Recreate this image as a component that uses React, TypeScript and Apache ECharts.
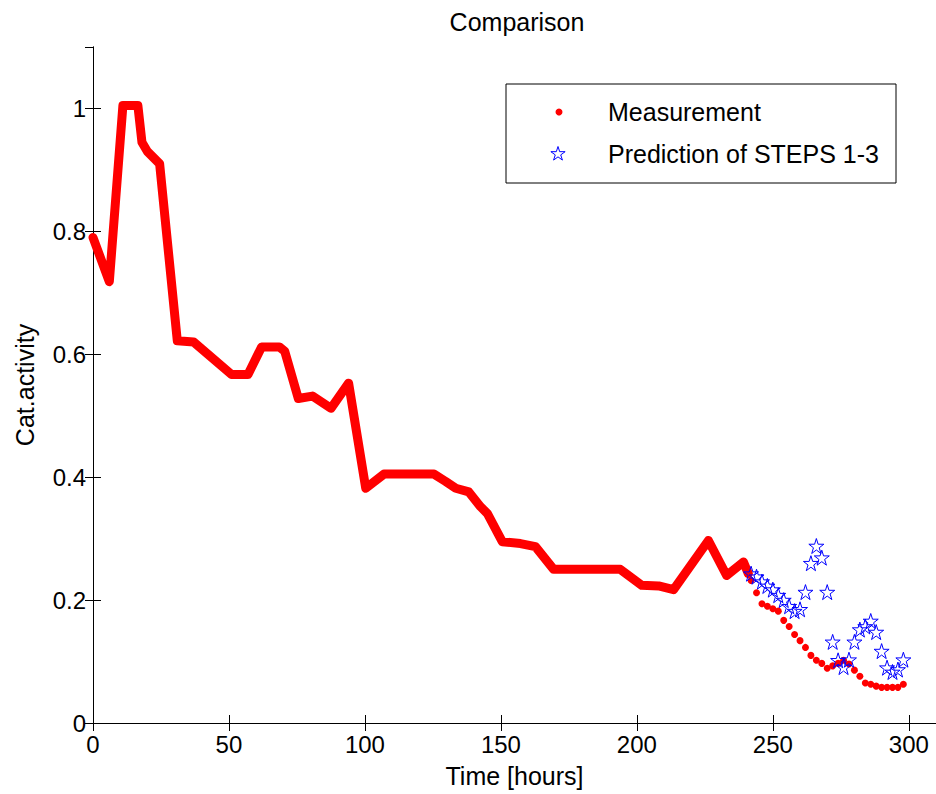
import React, { useEffect, useRef } from "react";
import * as echarts from "echarts";

// Dense measurement record (drawn as thick dotted trace)
const measTrendX = [0, 6, 11, 16.5, 18, 20, 24.5, 31, 37, 51, 57, 62, 68.5, 70.5, 75.5, 80.7, 87.5, 94, 100.3, 107, 125.4, 129.7, 133.4, 138.2, 142.5, 145, 150.5, 157.2, 162.7, 169.4, 193.9, 201.8, 208, 213.5, 226.3, 233, 239.2, 241];
const measTrendY = [0.79, 0.718, 1.005, 1.005, 0.945, 0.93, 0.91, 0.622, 0.62, 0.567, 0.567, 0.612, 0.612, 0.605, 0.528, 0.532, 0.512, 0.553, 0.382, 0.405, 0.405, 0.393, 0.382, 0.376, 0.352, 0.341, 0.295, 0.292, 0.287, 0.25, 0.25, 0.224, 0.223, 0.217, 0.297, 0.24, 0.262, 0.243];

// Sparse measurement points
const measDotX = [242, 244, 246, 248, 250, 252, 254, 256, 258, 260, 262, 264, 266, 268, 270, 272, 274, 276, 278, 280, 282, 284, 286, 288, 290, 292, 294, 296, 298];
const measDotY = [0.232, 0.212, 0.194, 0.19, 0.186, 0.182, 0.167, 0.157, 0.144, 0.134, 0.123, 0.11, 0.102, 0.097, 0.089, 0.093, 0.097, 0.102, 0.096, 0.086, 0.076, 0.065, 0.063, 0.06, 0.058, 0.058, 0.058, 0.058, 0.063];

// Prediction of STEPS 1-3
const predX = [242, 244, 246, 248, 250, 252, 254, 256, 258, 260, 262, 264, 266, 268, 270, 272, 274, 276, 278, 280, 282, 284, 286, 288, 290, 292, 294, 296, 298];
const predY = [0.243, 0.238, 0.23, 0.223, 0.217, 0.208, 0.2, 0.19, 0.182, 0.185, 0.213, 0.26, 0.288, 0.269, 0.213, 0.132, 0.102, 0.091, 0.103, 0.132, 0.152, 0.157, 0.166, 0.148, 0.117, 0.09, 0.083, 0.087, 0.103];

const xTickLabels = ["0", "50", "100", "150", "200", "250", "300"];
const yTickLabels = ["0", "0.2", "0.4", "0.6", "0.8", "1"];

const FONT = "'Liberation Sans', Arial, Helvetica, sans-serif";
const STAR =
  "path://M50,0 L61.8,36.2 L100,36.2 L69.1,58.8 L80.9,95.1 L50,72.6 L19.1,95.1 L30.9,58.8 L0,36.2 L38.2,36.2 Z";

function starPoints(cx: number, cy: number, r: number): number[][] {
  const pts: number[][] = [];
  for (let i = 0; i < 10; i++) {
    const rr = i % 2 === 0 ? r : r * 0.382;
    const a = -Math.PI / 2 + (i * Math.PI) / 5;
    pts.push([cx + rr * Math.cos(a), cy + rr * Math.sin(a)]);
  }
  return pts;
}

export default function App() {
  const ref = useRef<HTMLDivElement>(null);
  useEffect(() => {
    if (!ref.current) return;
    const chart = echarts.init(ref.current, undefined, { renderer: "svg" });
    const xLabelFmt = (v: number) => {
      const s = String(Math.round(v));
      return xTickLabels.includes(s) ? s : "";
    };
    const yLabelFmt = (v: number) => {
      const s = String(Math.round(v * 10) / 10);
      return yTickLabels.includes(s) ? s : "";
    };
    const axisCommon = {
      axisLine: { show: true, lineStyle: { color: "#000", width: 1 } },
      axisTick: { show: true, inside: true, length: 8, lineStyle: { color: "#000", width: 1 } },
      splitLine: { show: false },
    };
    chart.setOption({
      animation: false,
      backgroundColor: "#fff",
      title: {
        text: "Comparison",
        left: 512,
        top: 4,
        textAlign: "center",
        textStyle: { fontFamily: FONT, fontSize: 25, fontWeight: "normal", color: "#000" },
      },
      grid: { left: 93, top: 47, width: 845, height: 676, containLabel: false },
      xAxis: [
        {
          type: "value",
          min: 0,
          max: 310,
          interval: 50,
          position: "bottom",
          ...axisCommon,
          axisLabel: {
            show: true,
            margin: 9,
            showMaxLabel: false,
            formatter: xLabelFmt,
            fontFamily: FONT,
            fontSize: 24,
            color: "#000",
          },
          name: "Time [hours]",
          nameLocation: "middle",
          nameGap: 40,
          nameTextStyle: { fontFamily: FONT, fontSize: 25, color: "#000" },
        },
        {
          type: "value",
          min: 0,
          max: 310,
          interval: 50,
          position: "top",
          ...axisCommon,
          axisLabel: { show: false },
        },
      ],
      yAxis: [
        {
          type: "value",
          min: 0,
          max: 1.1,
          interval: 0.2,
          position: "left",
          ...axisCommon,
          axisLabel: {
            show: true,
            margin: 7,
            showMaxLabel: false,
            formatter: yLabelFmt,
            fontFamily: FONT,
            fontSize: 24,
            color: "#000",
          },
          name: "Cat.activity",
          nameLocation: "middle",
          nameGap: 56,
          nameTextStyle: { fontFamily: FONT, fontSize: 25, color: "#000" },
        },
        {
          type: "value",
          min: 0,
          max: 1.1,
          interval: 0.2,
          position: "right",
          ...axisCommon,
          axisLabel: { show: false },
        },
      ],
      series: [
        {
          name: "Measurement trace",
          type: "line",
          data: measTrendX.map((x, i) => [x, measTrendY[i]]),
          showSymbol: false,
          symbol: "none",
          lineStyle: { color: "#ff0000", width: 9, cap: "round", join: "round" },
          z: 2,
        },
        {
          name: "Measurement",
          type: "scatter",
          data: measDotX.map((x, i) => [x, measDotY[i]]),
          symbol: "circle",
          symbolSize: 7,
          itemStyle: { color: "#ff0000", opacity: 1 },
          z: 3,
        },
        {
          name: "Prediction of STEPS 1-3",
          type: "scatter",
          data: predX.map((x, i) => [x, predY[i]]),
          symbol: STAR,
          symbolSize: 15,
          itemStyle: { color: "rgba(0,0,0,0)", borderColor: "#0000ff", borderWidth: 1, opacity: 1 },
          z: 4,
        },
      ],
      graphic: [
        {
          type: "rect",
          z: 100,
          shape: { x: 506, y: 84, width: 390, height: 99 },
          style: { fill: "#fff", stroke: "#000", lineWidth: 1 },
        },
        {
          type: "circle",
          z: 101,
          shape: { cx: 559, cy: 112, r: 3.5 },
          style: { fill: "#ff0000" },
        },
        {
          type: "polygon",
          z: 101,
          shape: { points: starPoints(558, 154, 7.5) },
          style: { fill: "none", stroke: "#0000ff", lineWidth: 1 },
        },
        {
          type: "text",
          z: 101,
          x: 608,
          y: 112,
          style: {
            text: "Measurement",
            fontFamily: FONT,
            fontSize: 25,
            fill: "#000",
            verticalAlign: "middle",
            align: "left",
          },
        },
        {
          type: "text",
          z: 101,
          x: 608,
          y: 154,
          style: {
            text: "Prediction of STEPS 1-3",
            fontFamily: FONT,
            fontSize: 25,
            fill: "#000",
            verticalAlign: "middle",
            align: "left",
          },
        },
      ],
    });
    return () => chart.dispose();
  }, []);
  return (
    <div
      ref={ref}
      style={{ position: "absolute", left: 0, top: 0, width: 936, height: 794, background: "#fff" }}
    />
  );
}
